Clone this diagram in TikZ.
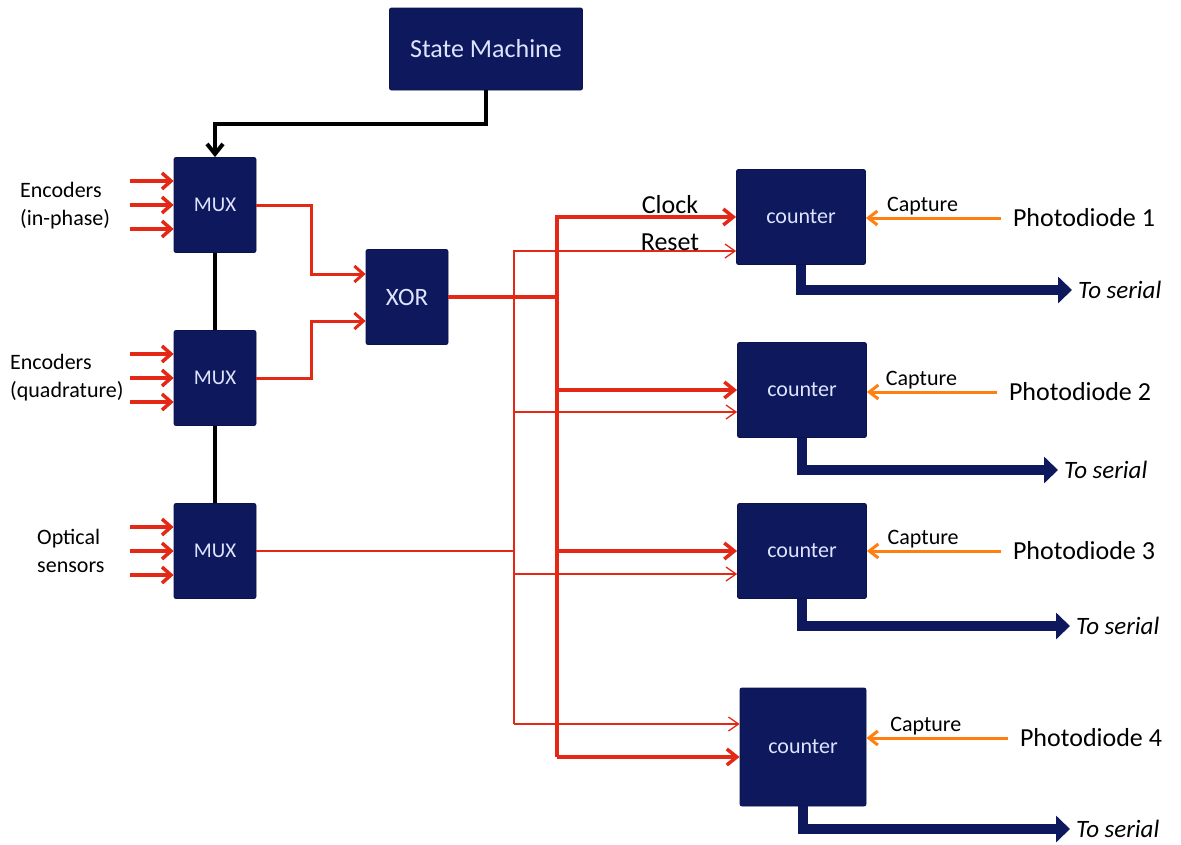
\documentclass[tikz,border=0pt]{standalone}
\usepackage{fontspec}
\setmainfont{Carlito}
\usetikzlibrary{arrows.meta,positioning,calc}

\definecolor{navyblk}{RGB}{14,24,92}
\definecolor{boxtext}{RGB}{222,228,255}
\definecolor{sigred}{RGB}{228,40,22}
\definecolor{caporange}{RGB}{255,128,16}

\tikzset{
  blockbox/.style={draw=navyblk!80!black, fill=navyblk, rounded corners=2pt,
    inner sep=0pt, text=boxtext, line width=0.8pt},
  muxbox/.style={blockbox, minimum width=82pt, minimum height=95pt,
    font=\fontsize{21}{24}\selectfont},
  cntbox/.style={blockbox, minimum width=129pt, minimum height=95pt,
    font=\fontsize{22}{26}\selectfont},
  inlbl/.style={anchor=west, align=left, inner sep=0pt,
    font=\fontsize{22}{28}\selectfont},
  siglbl/.style={inner sep=0pt, font=\fontsize{26}{30}\selectfont},
  pdlbl/.style={inner sep=0pt, inner xsep=12pt, font=\fontsize{26}{30}\selectfont},
  tolbl/.style={anchor=west, inner sep=0pt, inner xsep=6pt,
    font=\fontsize{25}{30}\itshape},
  ctrl/.style={draw=black, line width=4pt},
  sigin/.style={draw=sigred, line width=3.5pt, -{Straight Barb[length=9pt,width=16pt]}},
  sigmid/.style={draw=sigred, line width=3pt, -{Straight Barb[length=9pt,width=16pt]}},
  sigthick/.style={draw=sigred, line width=3.5pt},
  clk/.style={sigthick, -{Straight Barb[length=10pt,width=16pt]}},
  sigthin/.style={draw=sigred, line width=1.3pt},
  rst/.style={sigthin, -{Straight Barb[length=10pt,width=14pt]}},
  capture/.style={draw=caporange, line width=3pt, -{Straight Barb[length=9pt,width=14pt]}},
  serialout/.style={draw=navyblk, line width=10pt, line join=miter,
    -{Triangle[length=14pt,width=26pt]}}
}

\begin{document}
\begin{tikzpicture}[x=1pt, y=-1pt]
  \useasboundingbox (0,0) rectangle (1181,844);

  % blocks
  \node[blockbox, minimum width=193pt, minimum height=82pt,
    font=\fontsize{26}{30}\selectfont] (sm) at (486,49) {State Machine};
  \node[muxbox] (mux1) at (215,205) {MUX};
  \node[muxbox] (mux2) at (215,378) {MUX};
  \node[muxbox] (mux3) at (215,551) {MUX};
  \node[muxbox, font=\fontsize{25}{28}\selectfont] (xor) at (407,297) {XOR};
  \node[cntbox] (cnt1) at (801,217) {counter};
  \node[cntbox] (cnt2) at (802,390) {counter};
  \node[cntbox] (cnt3) at (802,551) {counter};
  \node[cntbox, minimum width=126pt, minimum height=118pt] (cnt4) at (803,747) {counter};

  % inputs
  \node[inlbl] (enc1) at (20,206) {Encoders\\(in-phase)};
  \node[inlbl] (enc2) at (10,378) {Encoders\\(quadrature)};
  \node[inlbl] (opt) at (37,551) {Optical\\sensors};
  \foreach \m in {mux1,mux2,mux3}
    \foreach \d in {-24,0,24}
      \draw[sigin] ([xshift=-44pt,yshift=\d pt]\m.west) -- ([yshift=\d pt]\m.west);

  % control chain
  \draw[ctrl, -{Straight Barb[length=10pt,width=16pt]}] (sm.south) -- ++(0,34) -| (mux1.north);
  \draw[ctrl] (mux1) -- (mux2);
  \draw[ctrl] (mux2) -- (mux3);

  % mux to xor
  \draw[sigmid] (mux1.east) -- ++(55,0) |- ([yshift=23pt]xor.west);
  \draw[sigmid] (mux2.east) -- ++(55,0) |- ([yshift=-24pt]xor.west);

  % clock bus
  \coordinate (clktop) at (557,217);
  \coordinate (clkbot) at (557,757);
  \draw[sigthick] (xor.east) -- (clktop |- xor.east);
  \draw[clk] (clkbot) -- (clktop) -- (cnt1.west);
  \draw[clk] (clktop |- cnt2.west) -- (cnt2.west);
  \draw[clk] (clktop |- cnt3.west) -- (cnt3.west);
  \draw[clk] (clkbot) -- ([yshift=-10pt]cnt4.west);

  % reset bus
  \coordinate (r1) at ([yshift=-34pt]cnt1.west);
  \coordinate (r2) at ([yshift=-22pt]cnt2.west);
  \coordinate (r3) at ([yshift=-23pt]cnt3.west);
  \coordinate (r4) at ([yshift=23pt]cnt4.west);
  \coordinate (rsttop) at (514,251);
  \coordinate (rstbot) at (514,724);
  \draw[sigthin] (mux3.east) -- (rsttop |- mux3.east);
  \draw[rst] (rstbot) -- (rsttop) -- (r1);
  \draw[rst] (rsttop |- r2) -- (r2);
  \draw[rst] (rsttop |- r3) -- (r3);
  \draw[rst] (rstbot) -- (r4);

  \node[siglbl] (clklbl) at (670,205) {Clock};
  \node[siglbl] (rstlbl) at (670,242) {Reset};

  % photodiodes and capture
  \node[pdlbl] (pd1) at (1084,218) {Photodiode 1};
  \node[pdlbl] (pd2) at (1080,392) {Photodiode 2};
  \node[pdlbl] (pd3) at (1084,551) {Photodiode 3};
  \node[pdlbl] (pd4) at (1091,738) {Photodiode 4};
  \foreach \i in {1,...,4}
    \draw[capture] (pd\i.west) -- (pd\i.west -| cnt\i.east)
      node[pos=0.58, above, inner sep=1pt, font=\fontsize{22}{26}\selectfont] {Capture};

  % serial outputs
  \node[tolbl] (ts1) at (1072,290) {To serial};
  \node[tolbl] (ts2) at (1058,470) {To serial};
  \node[tolbl] (ts3) at (1070,626) {To serial};
  \node[tolbl] (ts4) at (1070,829) {To serial};
  \foreach \i in {1,...,4}
    \draw[serialout] (cnt\i.south) |- (ts\i.west);

\end{tikzpicture}
\end{document}
